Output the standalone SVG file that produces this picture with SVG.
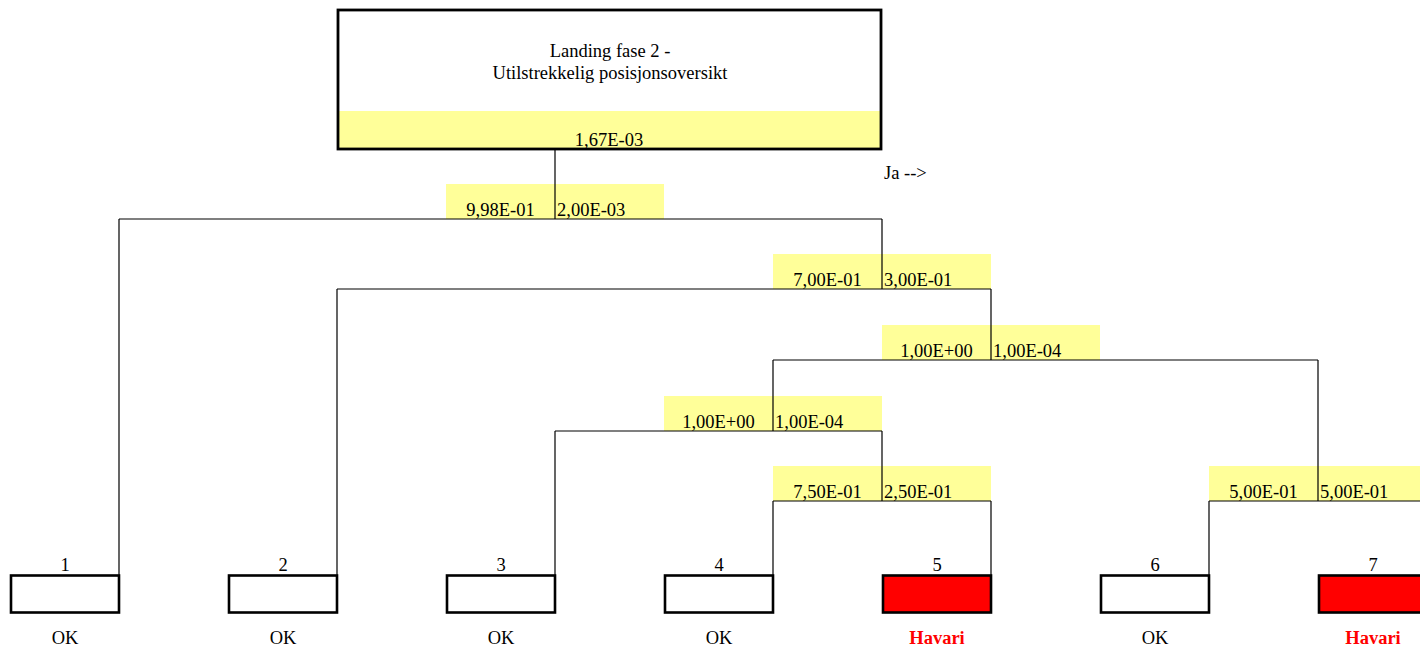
<svg xmlns="http://www.w3.org/2000/svg" width="1420" height="648" viewBox="0 0 1420 648">
<style>
text{font-family:"Liberation Serif","Times New Roman",serif;font-size:18.5px;fill:#000}
.c{text-anchor:middle}
.y{fill:#FFFF99;stroke:none}
.box{fill:#fff;stroke:#000;stroke-width:2.6}
.red{fill:#FF0000;stroke:#000;stroke-width:2.6}
.ln{stroke:#000;stroke-width:1.2;fill:none}
.hv{fill:#FF0000;font-weight:bold}
</style>
<rect width="1420" height="648" fill="#fff"/>
<g id="top">
<rect x="338" y="10" width="543" height="139" fill="#fff"/>
<rect class="y" x="338" y="111" width="543" height="38"/>
<rect x="338" y="10" width="543" height="139" fill="none" stroke="#000" stroke-width="2.8"/>
<text class="c" x="610" y="57">Landing fase 2 -</text>
<text class="c" x="610" y="79">Utilstrekkelig posisjonsoversikt</text>
<text class="c" x="609" y="146">1,67E-03</text>
</g>
<text x="884" y="179">Ja --&gt;</text>
<g id="labels">
<rect class="y" x="446" y="184" width="218" height="35"/>
<rect class="y" x="773" y="254" width="218" height="35"/>
<rect class="y" x="882" y="325" width="218" height="35"/>
<rect class="y" x="664" y="396" width="218" height="35"/>
<rect class="y" x="773" y="466" width="218" height="35"/>
<rect class="y" x="1209" y="466" width="211" height="35"/>
<text class="c" x="500.5" y="216">9,98E-01</text><text x="557" y="216">2,00E-03</text>
<text class="c" x="827.5" y="286">7,00E-01</text><text x="884" y="286">3,00E-01</text>
<text class="c" x="936.5" y="357">1,00E+00</text><text x="993" y="357">1,00E-04</text>
<text class="c" x="718.5" y="428">1,00E+00</text><text x="775" y="428">1,00E-04</text>
<text class="c" x="827.5" y="498">7,50E-01</text><text x="884" y="498">2,50E-01</text>
<text class="c" x="1263.5" y="498">5,00E-01</text><text x="1320" y="498">5,00E-01</text>
</g>
<g id="connectors" class="ln">
<path d="M555 149V219M119 219H882M119 219V575"/>
<path d="M882 219V289M337 289H991M337 289V575"/>
<path d="M991 289V360M773 360H1318"/>
<path d="M773 360V431M555 431H882M555 431V575"/>
<path d="M882 431V501M773 501H991M773 501V575M991 501V575"/>
<path d="M1318 360V501M1209 501H1427M1209 501V575M1427 501V575"/>
</g>
<g id="n1"><rect class="box" x="11" y="575.5" width="108" height="37"/><text class="c" x="65" y="571">1</text><text class="c" x="65" y="644">OK</text></g>
<g id="n2"><rect class="box" x="229" y="575.5" width="108" height="37"/><text class="c" x="283" y="571">2</text><text class="c" x="283" y="644">OK</text></g>
<g id="n3"><rect class="box" x="447" y="575.5" width="108" height="37"/><text class="c" x="501" y="571">3</text><text class="c" x="501" y="644">OK</text></g>
<g id="n4"><rect class="box" x="665" y="575.5" width="108" height="37"/><text class="c" x="719" y="571">4</text><text class="c" x="719" y="644">OK</text></g>
<g id="n5"><rect class="red" x="883" y="575.5" width="108" height="37"/><text class="c" x="937" y="571">5</text><text class="c hv" x="937" y="644">Havari</text></g>
<g id="n6"><rect class="box" x="1101" y="575.5" width="108" height="37"/><text class="c" x="1155" y="571">6</text><text class="c" x="1155" y="644">OK</text></g>
<g id="n7"><rect class="red" x="1319" y="575.5" width="108" height="37"/><text class="c" x="1373" y="571">7</text><text class="c hv" x="1373" y="644">Havari</text></g>
</svg>
